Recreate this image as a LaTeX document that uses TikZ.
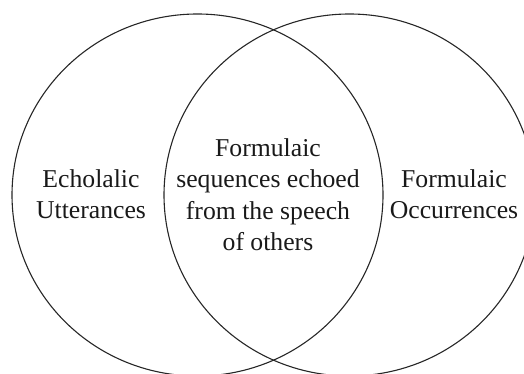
\documentclass[tikz,border=0pt]{standalone}
\usepackage{fontspec}
\setmainfont{Liberation Serif}
\begin{document}
\begin{tikzpicture}[x=1pt,y=1pt,
  setline/.style={draw=black!85,line width=1.1pt},
  lbl/.style={align=center,inner sep=0pt,text=black!90,
    font=\fontsize{25.7}{31.5}\selectfont}]
\useasboundingbox (0,0) rectangle (524,-374);
\clip (0,0) rectangle (524,-374);
\draw[setline] (197.5,-195) ellipse [x radius=185.5, y radius=181];
\draw[setline] (349.5,-195) ellipse [x radius=185.5, y radius=181];
\node[lbl] (echo) at (91,-196.5) {\strut Echolalic\\\strut Utterances};
\node[lbl] (both) at (268,-197) {\strut Formulaic\\\strut sequences echoed\\\strut from the speech\\\strut of others};
\node[lbl] (form) at (454,-196.5) {\strut Formulaic\\\strut Occurrences};
\end{tikzpicture}
\end{document}
